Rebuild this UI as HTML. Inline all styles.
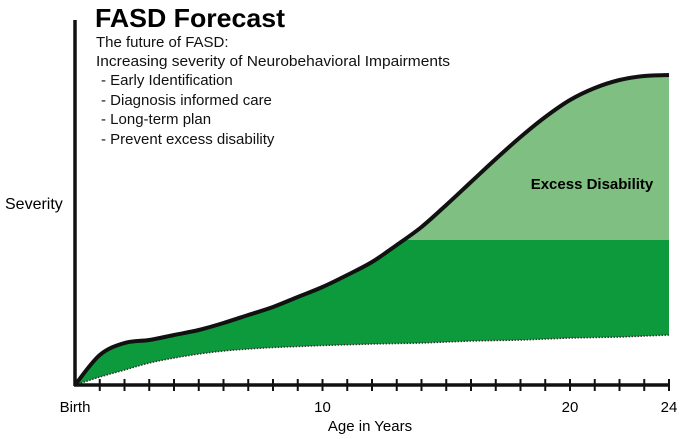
<!DOCTYPE html>
<html><head><meta charset="utf-8"><style>
html,body{margin:0;padding:0;background:#fff}
svg{display:block;font-family:"Liberation Sans",sans-serif}
</style></head><body>
<svg id="chart" width="685" height="439" viewBox="0 0 685 439">
<g id="areas"></g>
<g id="lines"></g>
<line x1="75" y1="20" x2="75" y2="386" stroke="#111" stroke-width="3.5"/>
<line x1="74" y1="385" x2="670" y2="385" stroke="#111" stroke-width="3.5"/>
<g id="ticks"></g>
<text x="95" y="27" font-size="26" font-weight="bold" textLength="190" lengthAdjust="spacingAndGlyphs">FASD Forecast</text>
<g font-size="15" fill="#111">
<text x="96" y="47">The future of FASD:</text>
<text x="96" y="66" textLength="354" lengthAdjust="spacingAndGlyphs">Increasing severity of Neurobehavioral Impairments</text>
<text x="101" y="85">- Early Identification</text>
<text x="101" y="105">- Diagnosis informed care</text>
<text x="101" y="124">- Long-term plan</text>
<text x="101" y="144">- Prevent excess disability</text>
</g>
<text x="5" y="209" font-size="16">Severity</text>
<text x="370" y="431" font-size="15" text-anchor="middle">Age in Years</text>
<text x="592" y="189" font-size="15" font-weight="bold" text-anchor="middle">Excess Disability</text>
</svg>
<script>
const years = [0,1,2,3,4,5,6,7,8,9,10,11,12,13,14,15,16,17,18,19,20,21,22,23,24];
const severity = [0,30,42,45,50,55,62,70,78,88,98,110,123,140,158,180,203,226,248,268,285,297,305,309,310];
const baseline = [0,8,15,22,27,31,34,36,37.5,38.5,39.5,40.3,41,41.5,42,43,44,44.5,45,46,47,47.5,48,49,50];
const plateau = [145];
const tickLabels = [{v:0,t:"Birth"},{v:10,t:"10"},{v:20,t:"20"},{v:24,t:"24"}];

const NS="http://www.w3.org/2000/svg";
const xs = v => 75 + v*(669-75)/24;
const ys = v => 385 - v;
function smooth(pts){
  let d="";
  for(let i=0;i<pts.length-1;i++){
    const p0=pts[Math.max(0,i-1)],p1=pts[i],p2=pts[i+1],p3=pts[Math.min(pts.length-1,i+2)];
    const c1=[p1[0]+(p2[0]-p0[0])/6,p1[1]+(p2[1]-p0[1])/6];
    const c2=[p2[0]-(p3[0]-p1[0])/6,p2[1]-(p3[1]-p1[1])/6];
    d+=` C${c1[0]},${c1[1]} ${c2[0]},${c2[1]} ${p2[0]},${p2[1]}`;
  }
  return d;
}
const topPts = years.map((y,i)=>[xs(y),ys(severity[i])]);
const lowPts = years.map((y,i)=>[xs(y),ys(baseline[i])]);
const lowRev = lowPts.slice().reverse();
const areas=document.getElementById('areas');
const lines=document.getElementById('lines');
const cid="clipPlateau";
const defs=document.createElementNS(NS,'defs');
const cp=document.createElementNS(NS,'clipPath');cp.setAttribute('id',cid);
const cr=document.createElementNS(NS,'rect');
cr.setAttribute('x',0);cr.setAttribute('y',ys(plateau[0]));cr.setAttribute('width',685);cr.setAttribute('height',439);
cp.appendChild(cr);defs.appendChild(cp);areas.appendChild(defs);
const full=`M${topPts[0][0]},${topPts[0][1]}`+smooth(topPts)+` L${lowRev[0][0]},${lowRev[0][1]}`+smooth(lowRev)+"Z";
const light=document.createElementNS(NS,'path');
light.setAttribute('d',full);light.setAttribute('fill','#7fbf82');


areas.appendChild(light);
const dark=document.createElementNS(NS,'path');
dark.setAttribute('d',full);dark.setAttribute('fill','#0d9a3c');dark.setAttribute('clip-path',`url(#${cid})`);


areas.appendChild(dark);
const tl=document.createElementNS(NS,'path');
tl.setAttribute('d',`M${topPts[0][0]},${topPts[0][1]}`+smooth(topPts));
tl.setAttribute('fill','none');tl.setAttribute('stroke','#111');tl.setAttribute('stroke-width','4');


lines.appendChild(tl);
const bl=document.createElementNS(NS,'path');
bl.setAttribute('d',`M${lowPts[0][0]},${lowPts[0][1]}`+smooth(lowPts));
bl.setAttribute('fill','none');bl.setAttribute('stroke','#333');bl.setAttribute('stroke-width','1.5');bl.setAttribute('stroke-dasharray','1.5 1.5');


lines.appendChild(bl);
const ticks=document.getElementById('ticks');
for(let i=1;i<=24;i++){
  const t=document.createElementNS(NS,'line');
  t.setAttribute('x1',xs(i));t.setAttribute('x2',xs(i));t.setAttribute('y1',379);t.setAttribute('y2',391);
  t.setAttribute('stroke','#111');t.setAttribute('stroke-width','2');
  
  
  ticks.appendChild(t);
}
tickLabels.forEach(o=>{
  const t=document.createElementNS(NS,'text');
  t.setAttribute('x',xs(o.v));t.setAttribute('y',412);t.setAttribute('font-size','15');t.setAttribute('text-anchor','middle');
  t.textContent=o.t;
  
  
  ticks.appendChild(t);
});
</script>
</body></html>
